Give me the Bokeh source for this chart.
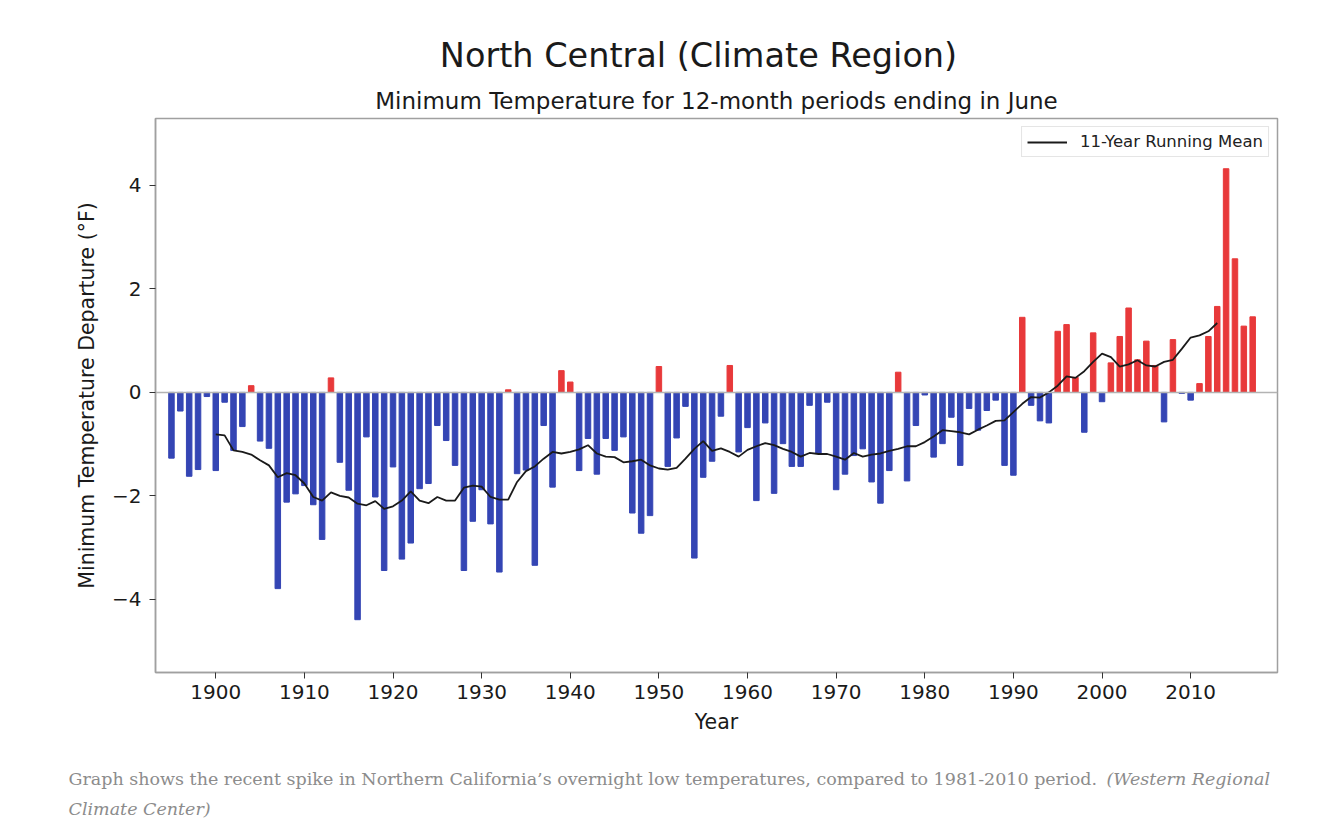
from bokeh.plotting import figure
from bokeh.layouts import column
from bokeh.models import Range1d, FixedTicker, Span, Label, ColumnDataSource
from bokeh.embed import file_html
from bokeh.resources import INLINE

# ---------------- data ----------------
YEARS = list(range(1895, 2018))
VALUES = [
    -1.27, -0.36, -1.62, -1.49, -0.08,           # 1895-1899
    -1.51, -0.19, -1.12, -0.66, 0.13, -0.94, -1.08, -3.79, -2.12, -1.96,  # 1900s
    -1.80, -2.17, -2.84, 0.28, -1.35, -1.89, -4.39, -0.86, -2.02, -3.44,  # 1910s
    -1.44, -3.22, -2.91, -1.86, -1.76, -0.64, -0.93, -1.41, -3.44, -2.49,  # 1920s
    -1.88, -2.54, -3.47, 0.05, -1.57, -1.50, -3.34, -0.64, -1.83, 0.42,   # 1930s
    0.20, -1.51, -0.89, -1.58, -0.89, -1.12, -0.86, -2.33, -2.72, -2.38,  # 1940s
    0.50, -1.43, -0.88, -0.27, -3.20, -1.64, -1.33, -0.46, 0.52, -1.15,   # 1950s
    -0.68, -2.09, -0.59, -1.95, -0.99, -1.43, -1.43, -0.25, -1.18, -0.19,  # 1960s
    -1.88, -1.58, -1.22, -1.09, -1.73, -2.14, -1.51, 0.39, -1.71, -0.64,  # 1970s
    -0.05, -1.25, -0.99, -0.48, -1.41, -0.31, -0.73, -0.35, -0.15, -1.41,  # 1980s
    -1.60, 1.45, -0.25, -0.55, -0.59, 1.18, 1.31, 0.29, -0.77, 1.15,      # 1990s
    -0.18, 0.57, 1.08, 1.63, 0.63, 0.99, 0.52, -0.57, 1.02, -0.02,        # 2000s
    -0.15, 0.17, 1.08, 1.66, 4.32, 2.58, 1.28, 1.46,                     # 2010s
]
MEAN_YEARS = list(range(1900, 2014))
MEAN = [
    -0.81, -0.83, -1.12, -1.15, -1.20, -1.31, -1.41, -1.64, -1.56, -1.60,
    -1.76, -2.02, -2.09, -1.93, -2.00, -2.03, -2.15, -2.18, -2.10, -2.25,
    -2.20, -2.09, -1.91, -2.09, -2.14, -2.02, -2.09, -2.09, -1.84, -1.80,
    -1.82, -2.02, -2.07, -2.07, -1.73, -1.52, -1.43, -1.28, -1.15, -1.18,
    -1.15, -1.10, -1.02, -1.18, -1.24, -1.25, -1.35, -1.33, -1.30, -1.41,
    -1.47, -1.49, -1.46, -1.28, -1.09, -0.94, -1.13, -1.08, -1.15, -1.24,
    -1.11, -1.04, -0.98, -1.02, -1.09, -1.15, -1.24, -1.17, -1.19, -1.19,
    -1.24, -1.30, -1.17, -1.24, -1.20, -1.18, -1.13, -1.09, -1.04, -1.04,
    -0.96, -0.85, -0.73, -0.75, -0.77, -0.81, -0.72, -0.64, -0.55, -0.54,
    -0.38, -0.22, -0.09, -0.10, 0.00, 0.13, 0.31, 0.28, 0.41, 0.59,
    0.75, 0.68, 0.50, 0.54, 0.62, 0.52, 0.50, 0.59, 0.63, 0.84,
    1.06, 1.10, 1.18, 1.34,
]
X_TICKS = [1900, 1910, 1920, 1930, 1940, 1950, 1960, 1970, 1980, 1990, 2000, 2010]
Y_TICKS = [-4, -2, 0, 2, 4]
Y_TICK_LABELS = ["\u22124", "\u22122", "0", "2", "4"]

TITLE = "North Central (Climate Region)"
SUBTITLE = "Minimum Temperature for 12-month periods ending in June"
CAPTION_1 = "Graph shows the recent spike in Northern California\u2019s overnight low temperatures, compared to 1981-2010 period."
CAPTION_1_IT = "(Western Regional"
CAPTION_2_IT = "Climate Center)"

# ---------------- style ----------------
BLUE = "#3445b4"
RED = "#e8393a"
FONT = "DejaVu Sans"
SERIF = "DejaVu Serif"
W = 1323
HEAD_H, MAIN_H, FOOT_H = 114, 634, 82


def blank(h):
    f = figure(width=W, height=h, output_backend="svg", toolbar_location=None,
               x_range=Range1d(0, W), y_range=Range1d(0, h), min_border=0,
               x_axis_location=None, y_axis_location=None)
    f.title = None
    f.frame_align = False
    f.outline_line_color = None
    f.grid.visible = False
    f.background_fill_color = "white"
    f.border_fill_color = "white"
    return f


# ---------------- header ----------------
head = blank(HEAD_H)
head.add_layout(Label(x=698, y=HEAD_H - 55, text=TITLE, text_align="center",
                      text_baseline="middle", text_font=FONT, text_font_size="33.5px",
                      text_color="#1a1a1a"))
head.add_layout(Label(x=716, y=HEAD_H - 100, text=SUBTITLE, text_align="center",
                      text_baseline="middle", text_font=FONT, text_font_size="23px",
                      text_color="#1a1a1a"))

# ---------------- main chart ----------------
colors = [RED if v > 0 else BLUE for v in VALUES]
src = ColumnDataSource(dict(x=YEARS, top=VALUES, color=colors))

p = figure(width=W, height=MAIN_H, output_backend="svg", toolbar_location=None,
           x_range=Range1d(1893.2, 2019.8), y_range=Range1d(-5.41, 5.29),
           min_border_left=155, min_border_right=46,
           min_border_top=4, min_border_bottom=76)
p.title = None
p.frame_align = False
p.background_fill_color = "white"
p.border_fill_color = "white"
p.outline_line_color = "#a0a0a0"
p.outline_line_width = 1.5
p.grid.visible = False

p.vbar(x="x", top="top", bottom=0, width=0.62, color="color", source=src)
p.add_layout(Span(location=0, dimension="width", line_color="#b3b3b3", line_width=1.5))
p.line(MEAN_YEARS, MEAN, line_color="#1a1a1a", line_width=1.8,
       legend_label="11-Year Running Mean")

for ax in (p.xaxis[0], p.yaxis[0]):
    ax.axis_line_color = "#a0a0a0"
    ax.axis_line_width = 1.5
    ax.major_tick_in = 0
    ax.major_tick_out = 6
    ax.major_tick_line_color = "#333333"
    ax.minor_tick_line_color = None
    ax.major_label_text_font = FONT
    ax.major_label_text_font_size = "20px"
    ax.major_label_text_color = "#1a1a1a"
    ax.axis_label_text_font = FONT
    ax.axis_label_text_font_size = "20.5px"
    ax.axis_label_text_font_style = "normal"
    ax.axis_label_text_color = "#1a1a1a"

p.xaxis.ticker = FixedTicker(ticks=X_TICKS)
p.xaxis.axis_label = "Year"
p.xaxis.major_label_standoff = 6
p.xaxis.axis_label_standoff = 8

p.yaxis.ticker = FixedTicker(ticks=Y_TICKS)
p.yaxis.major_label_overrides = {t: l for t, l in zip(Y_TICKS, Y_TICK_LABELS)}
p.yaxis.axis_label = "Minimum Temperature Departure (\u00b0F)"
p.yaxis.major_label_standoff = 8
p.yaxis.axis_label_standoff = 10

lg = p.legend[0]
lg.location = "top_right"
lg.margin = 8
lg.padding = 5
lg.spacing = 0
lg.label_text_font = FONT
lg.label_text_font_size = "16.5px"
lg.label_text_color = "#222222"
lg.glyph_width = 40
lg.glyph_height = 18
lg.label_standoff = 13
lg.border_line_color = "#cccccc"
lg.border_line_width = 1
lg.background_fill_alpha = 1.0

# ---------------- caption ----------------
foot = blank(FOOT_H)
FOOT_TOP = HEAD_H + MAIN_H
foot.add_layout(Label(x=68, y=FOOT_TOP + FOOT_H - 778, text=CAPTION_1, text_align="left",
                      text_baseline="middle", text_font=SERIF, text_font_size="17.5px",
                      text_color="#8c8c8c"))
foot.add_layout(Label(x=1106, y=FOOT_TOP + FOOT_H - 778, text=CAPTION_1_IT, text_align="left",
                      text_baseline="middle", text_font=SERIF, text_font_size="17.5px",
                      text_font_style="italic", text_color="#8c8c8c"))
foot.add_layout(Label(x=68, y=FOOT_TOP + FOOT_H - 808, text=CAPTION_2_IT, text_align="left",
                      text_baseline="middle", text_font=SERIF, text_font_size="17.5px",
                      text_font_style="italic", text_color="#8c8c8c"))

layout = column(head, p, foot, spacing=0)
open("out.html", "w").write(file_html(layout, INLINE))
